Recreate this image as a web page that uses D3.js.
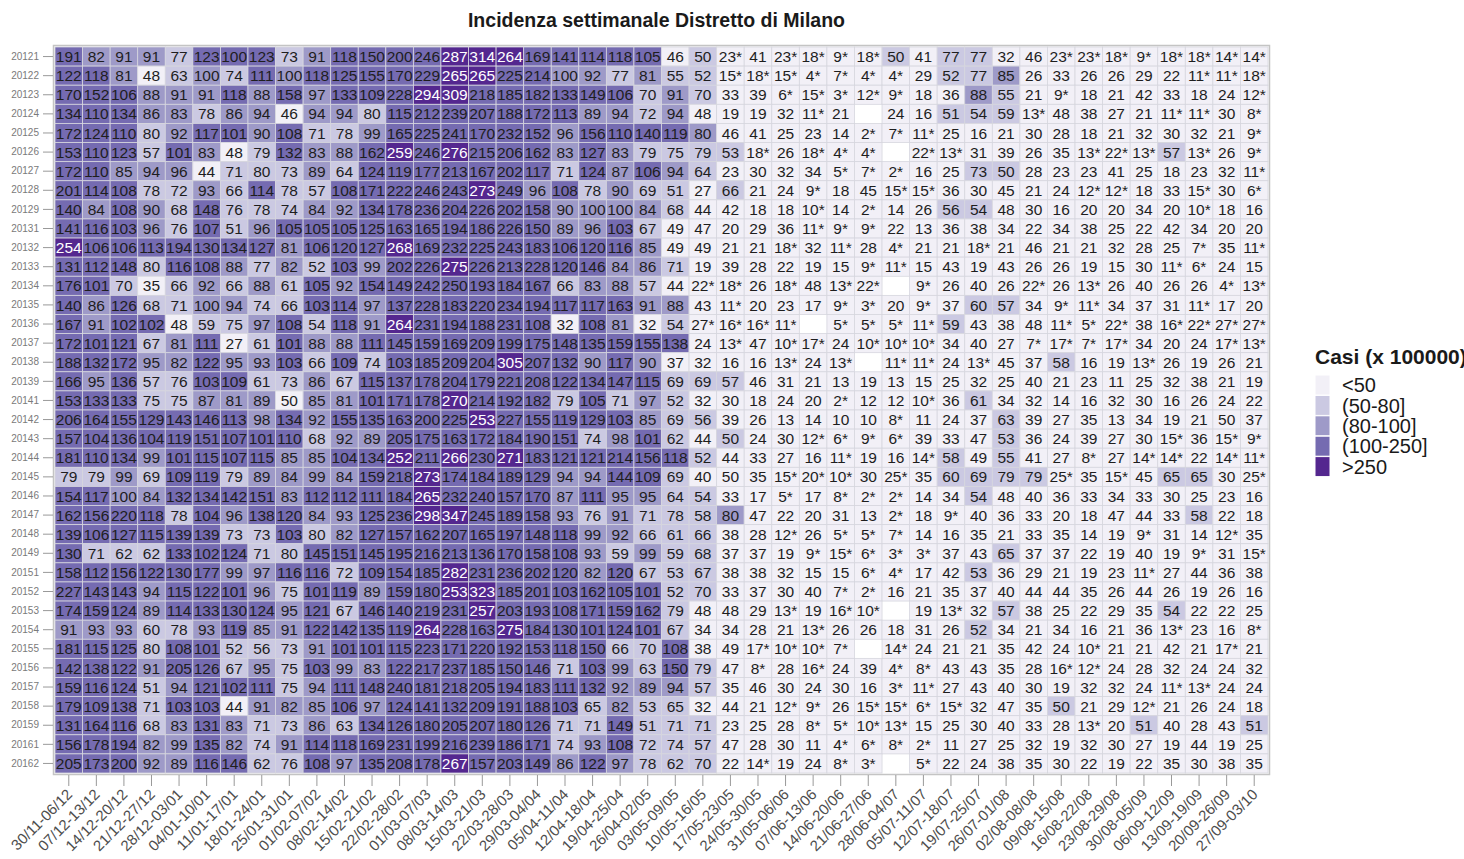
<!DOCTYPE html>
<html>
<head>
<meta charset="utf-8">
<script src="https://cdn.jsdelivr.net/npm/d3@7"></script>
<style>
  body { margin: 0; background: #fff; }
  svg { display: block; font-family: "Liberation Sans", Arial, sans-serif; }
</style>
</head>
<body>
<svg id="chart" width="1464" height="859"></svg>
<script>
// weeks on the x axis
const weeks = [
    '30/11-06/12', '07/12-13/12', '14/12-20/12', '21/12-27/12', '28/12-03/01',
    '04/01-10/01', '11/01-17/01', '18/01-24/01', '25/01-31/01', '01/02-07/02',
    '08/02-14/02', '15/02-21/02', '22/02-28/02', '01/03-07/03', '08/03-14/03',
    '15/03-21/03', '22/03-28/03', '29/03-04/04', '05/04-11/04', '12/04-18/04',
    '19/04-25/04', '26/04-02/05', '03/05-09/05', '10/05-16/05', '17/05-23/05',
    '24/05-30/05', '31/05-06/06', '07/06-13/06', '14/06-20/06', '21/06-27/06',
    '28/06-04/07', '05/07-11/07', '12/07-18/07', '19/07-25/07', '26/07-01/08',
    '02/08-08/08', '09/08-15/08', '16/08-22/08', '23/08-29/08', '30/08-05/09',
    '06/09-12/09', '13/09-19/09', '20/09-26/09', '27/09-03/10'
]

// areas on the y axis
const areas = [
    '20121', '20122', '20123', '20124', '20125', '20126', '20127', '20128', '20129',
    '20131', '20132', '20133', '20134', '20135', '20136', '20137', '20138', '20139',
    '20141', '20142', '20143', '20144', '20145', '20146', '20147', '20148', '20149',
    '20151', '20152', '20153', '20154', '20155', '20156', '20157', '20158', '20159',
    '20161', '20162'
]

// weekly cases x 100000, one string per area ('*' = flagged value, '-' = missing)
const incidence = [
    '191 82 91 91 77 123 100.4 123 73 91 118 150 200 246 287 314 264 169 141 114 118 105 46 50.4 23* 41 23* 18* 9* 18* 50.4 41 77 77 32 46 23* 23* 18* 9* 18* 18* 14* 14*',
    '122 118 81 48 63 100 74 111 100 118 125 155 170 229 265 265 225 214 100 92 77 81 55 52 15* 18* 15* 4* 7* 4* 4* 29 52 77 85 26 33 26 26 29 22 11* 11* 18*',
    '170 152 106 88 91 91 118 88 158 97 133 109 228 294 309 218 185 182 133 149 106 70 91 70 33 39 6* 15* 3* 12* 9* 18 36 88 55 21 9* 18 21 42 33 18 24 12*',
    '134 110 134 86 83 78 86 94 46 94 94 80 115 212 239 207 188 172 113 89 94 72 94 48 19 19 32 11* 21 - 24 16 51 54 59 13* 48 38 27 21 11* 11* 30 8*',
    '172 124 110 80 92 117 101 90 108 71 78 99 165 225 241 170 232 152 96 156 110 140 119 80.4 46 41 25 23 14 2* 7* 11* 25 16 21 30 28 18 21 32 30 32 21 9*',
    '153 110 123 57 101 83 48 79 132 83 88 162 259 246 276 215 206 162 83 127 83 79 75 79 53 18* 26 18* 4* 4* - 22* 13* 31 39 26 35 13* 22* 13* 57 13* 26 9*',
    '172 110 85 94 96 44 71 80 73 89 64 124 119 177 213 167 202 117 71 124 87 106 94 64 23 30 32 34 5* 7* 2* 16 25 73 50.4 28 23 23 41 25 18 23 32 11*',
    '201 114 108 78 72 93 66 114 78 57 108 171 222 246 243 273 249 96 108 78 90 69 51 27 66 21 24 9* 18 45 15* 15* 36 30 45 21 24 12* 12* 18 33 15* 30 6*',
    '140 84 108 90 68 148 76 78 74 84 92 134 178 236 204 226 202 158 90 100 100 84 68 44 42 18 18 10* 14 2* 14 26 56 54 48 30 16 20 20 34 20 10* 18 16',
    '141 116 103 96 76 107 51 96 105 105 105 125 163 165 194 186 226 150 89 96 103 67 49 47 20 29 36 11* 9* 9* 22 13 36 38 34 22 34 38 25 22 42 34 20 20',
    '254 106 106 113 194 130 134 127 81 106 120 127 268 169 232 225 243 183 106 120 116 85 49 49 21 21 18* 32 11* 28 4* 21 21 18* 21 46 21 21 32 28 25 7* 35 11*',
    '131 112 148 80 116 108 88 77 82 52 103 99 202 226 275 226 213 228 120 146 84 86 71 19 39 28 22 19 15 9* 11* 15 43 19 43 26 26 19 15 30 11* 6* 24 15',
    '176 101 70 35 66 92 66 88 61 105 92 154 149 242 250 193 184 167 66 83 88 57 44 22* 18* 26 18* 48 13* 22* - 9* 26 40 26 22* 26 13* 26 40 26 26 4* 13*',
    '140 86 126 68 71 100 94 74 66 103 114 97 137 228 183 220 234 194 117 117 163 91 88 43 11* 20 23 17 9* 3* 20 9* 37 60 57 34 9* 11* 34 37 31 11* 17 20',
    '167 91 102 102 48 59 75 97 108 54 118 91 264 231 194 188 231 108 32 108 81 32 54 27* 16* 16* 11* - 5* 5* 5* 11* 59 43 38 48 11* 5* 22* 38 16* 22* 27* 27*',
    '172 101 121 67 81 111 27 61 101 88 88 111 145 159 169 209 199 175 148 135 159 155 138 24 13* 47 10* 17* 24 10* 10* 10* 34 40 27 7* 17* 7* 17* 34 20 24 17* 13*',
    '188 132 172 95 82 122 95 93 103 66 109 74 103 185 209 204 305 207 132 90 117 90 37 32 16 16 13* 24 13* - 11* 11* 24 13* 45 37 58 16 19 13* 26 19 26 21',
    '166 95 136 57 76 103 109 61 73 86 67 115 137 178 204 179 221 208 122 134 147 115 69 69 57 46 31 21 13 19 13 15 25 32 25 40 21 23 11 25 32 38 21 19',
    '153 133 133 75 75 87 81 89 50 85 81 101 171 178 270 214 192 182 79 105 71 97 52 32 30 18 24 20 2* 12 12 10* 36 61 34 32 14 16 32 30 16 26 24 22',
    '206 164 155 129 143 146 113 98 134 92 155 135 163 200 225 253 227 155 119 129 103 85 69 56 39 26 13 14 10 10 8* 11 24 37 63 39 27 35 13 34 19 21 50 37',
    '157 104 136 104 119 151 107 101 110 68 92 89 205 175 163 172 184 190 151 74 98 101 62 44 50.4 24 30 12* 6* 9* 6* 39 33 47 53 36 24 39 27 30 15* 36 15* 9*',
    '181 110 134 99 101 115 107 115 85 85 104 134 252 211 266 230 271 183 121 121 214 156 118 52 44 33 27 16 11* 19 16 14* 58 49 55 41 27 8* 27 14* 14* 22 14* 11*',
    '79 79 99 69 109 119 79 89 84 99 84 159 218 273 174 184 189 129 94 94 144 109 69 40 50 35 15* 20* 10* 30 25* 35 60 69 79 79 25* 35 15* 45 65 65 30 25*',
    '154 117 100 84 132 134 142 151 83 112 112 111 184 265 232 240 157 170 87 111 95 95 64 54 33 17 5* 17 8* 2* 2* 14 34 54 48 40 36 33 34 33 30 25 23 16',
    '162 156 220 118 78 104 96 138 120 84 93 125 236 298 347 245 189 158 93 76 91 71 78 58 80.4 47 22 20 31 13 2* 18 9* 40 36 33 20 18 47 44 33 58 22 18',
    '139 106 127 115 139 139 73 73 103 80 82 127 157 162 207 165 197 148 118 99 92 66 61 66 38 28 12* 26 5* 5* 7* 14 16 35 21 33 35 14 19 9* 31 14 12* 35',
    '130 71 62 62 133 102 124 71 80 145 151 145 195 216 213 136 170 158 108 93 59 99 59 68 37 37 19 9* 15* 6* 3* 3* 37 43 65 37 37 22 19 40 19 9* 31 15*',
    '158 112 156 122 130 177 99 97 116 116 72 109 154 185 282 231 236 202 120 82 120 67 53 67 38 38 32 15 15 6* 4* 17 42 53 36 29 21 19 23 11* 27 44 36 38',
    '227 143 143 94 115 122 101 96 75 101 119 89 159 180 253 323 185 201 103 162 105 101 52 70 33 37 30 40 7* 2* 16 21 35 37 40 44 44 35 26 44 26 19 26 16',
    '174 159 124 89 114 133 130 124 95 121 67 146 140 219 231 257 203 193 108 171 159 162 79 48 48 29 13* 19 16* 10* - 19 13* 32 57 38 25 22 29 35 54 22 22 25',
    '91 93 93 60 78 93 119 85 91 122 142 135 119 264 228 163 275 184 130 101 124 101 67 34 34 28 21 13* 26 26 18 31 26 52 34 21 34 16 21 36 13* 23 16 8*',
    '181 115 125 80 108 101 52 56 73 91 101 101 115 223 171 220 192 153 118 150 66 70 108 38 49 17* 10* 10* 7* - 14* 24 21 21 35 42 24 10* 21 21 42 21 17* 21',
    '142 138 122 91 205 126 67 95 75 103 99 83 122 217 237 185 150 146 71 103 99 63 150 79 47 8* 28 16* 24 39 4* 8* 43 43 35 28 16* 12* 24 28 32 24 24 32',
    '159 116 124 51 94 121 102 111 75 94 111 148 240 181 218 205 194 183 111 132 92 89 94 57 35 46 30 24 30 16 3* 11* 27 43 40 30 19 32 32 24 11* 13* 24 24',
    '179 109 138 71 103 103 44 91 82 85 106 97 124 141 132 209 191 188 103 65 82 53 65 32 44 21 12* 9* 26 15* 15* 6* 15* 32 47 35 50.4 21 29 12* 21 26 24 18',
    '131 164 116 68 83 131 83 71 73 86 63 134 126 180 205 207 180 126 71 71 149 51 71 71 23 25 28 8* 5* 10* 13* 15 25 30 40 33 28 13* 20 51 40 28 43 51',
    '156 178 194 82 99 135 82 74 91 114 118 169 231 199 216 239 186 171 74 93 108 72 74 57 47 28 30 11 4* 6* 8* 2* 11 27 25 32 19 32 30 27 19 44 19 25',
    '205 173 200 92 89 116 146 62 76 108 97 135 208 178 267 157 203 149 86 122 97 78 62 70 22 14* 19 24 8* 3* - 5* 22 24 38 35 30 22 19 22 35 30 38 35'
]

// colour classes
const classBreaks = [50, 80, 100, 250]
const classLabels = ['<50', '(50-80]', '(80-100]', '(100-250]', '>250']
const classColors = ['#f2f0f7', '#cbc9e2', '#9e9ac8', '#756bb1', '#54278f']

const width = 1464
const height = 859
const margin = { top: 47, right: 196, bottom: 86, left: 55 }

const svg = d3.select('#chart')

// table of cells
const cells = []
incidence.forEach((row, i) => {
    row.split(' ').forEach((token, j) => {
        if (token === '-') return
        cells.push({
            area: areas[i],
            week: weeks[j],
            value: parseFloat(token),
            flag: token.endsWith('*')
        })
    })
})

const x = d3.scaleBand()
    .domain(weeks)
    .range([margin.left, width - margin.right])

const y = d3.scaleBand()
    .domain(areas)
    .range([margin.top, height - margin.bottom])

const classOf = (v) => d3.bisectLeft(classBreaks, v)
const color = d3.scaleOrdinal()
    .domain(d3.range(classLabels.length))
    .range(classColors)

// title
svg.append('text')
    .attr('x', (x.range()[0] + x.range()[1]) / 2 - 5)
    .attr('y', 27)
    .attr('text-anchor', 'middle')
    .style('font-size', '19.5px')
    .style('font-weight', 'bold')
    .style('fill', '#1a1a1a')
    .text('Incidenza settimanale Distretto di Milano')

// tiles
const grid = svg.append('g')

grid.selectAll('rect')
    .data(cells)
    .join('rect')
    .attr('x', (d) => x(d.week))
    .attr('y', (d) => y(d.area))
    .attr('width', x.bandwidth())
    .attr('height', y.bandwidth())
    .style('fill', (d) => color(classOf(d.value)))
    .style('stroke', '#d6d6de')
    .style('stroke-width', 0.8)

grid.selectAll('text')
    .data(cells)
    .join('text')
    .attr('x', (d) => x(d.week) + x.bandwidth() / 2)
    .attr('y', (d) => y(d.area) + y.bandwidth() / 2)
    .attr('dy', '0.36em')
    .attr('text-anchor', 'middle')
    .style('font-size', '15.5px')
    .style('fill', (d) => classOf(d.value) === 4 ? '#ffffff' : '#1e1e1e')
    .text((d) => Math.round(d.value) + (d.flag ? '*' : ''))

// panel border
svg.append('rect')
    .attr('x', x.range()[0] - 1.5)
    .attr('y', y.range()[0] - 1.5)
    .attr('width', x.range()[1] - x.range()[0] + 3)
    .attr('height', y.range()[1] - y.range()[0] + 3)
    .style('fill', 'none')
    .style('stroke', '#c4c4c4')
    .style('stroke-width', 1.5)

// y axis
const yAxis = svg.append('g')
    .attr('transform', `translate(${x.range()[0] - 2}, 0)`)
    .call(d3.axisLeft(y).tickSize(10).tickPadding(4))
yAxis.select('.domain').remove()
yAxis.selectAll('line').style('stroke', '#999')
yAxis.selectAll('text')
    .style('font-size', '10px')
    .style('font-family', '"Liberation Sans", Arial, sans-serif')
    .style('fill', '#7a7a7a')

// x axis
const xAxis = svg.append('g')
    .attr('transform', `translate(0, ${y.range()[1] + 2})`)
    .call(d3.axisBottom(x).tickSize(11).tickPadding(4))
xAxis.select('.domain').remove()
xAxis.selectAll('line').style('stroke', '#999')
xAxis.selectAll('text')
    .style('font-size', '15px')
    .style('font-family', '"Liberation Sans", Arial, sans-serif')
    .style('fill', '#4d4d4d')
    .attr('text-anchor', 'end')
    .attr('dy', '0.7em')
    .attr('transform', 'translate(-3, 13) rotate(-45)')
    .attr('y', 0)
    .attr('x', 0)

// legend
const legend = svg.append('g')
    .attr('transform', 'translate(1315, 0)')

legend.append('text')
    .attr('x', 0)
    .attr('y', 364)
    .style('font-size', '21px')
    .style('font-weight', 'bold')
    .style('fill', '#1a1a1a')
    .text('Casi (x 100000)')

const keys = legend.selectAll('g.key')
    .data(classLabels)
    .join('g')
    .attr('class', 'key')
    .attr('transform', (d, i) => `translate(0, ${375 + i * 20.4})`)

keys.append('rect')
    .attr('width', 15)
    .attr('height', 20)
    .style('fill', (d, i) => classColors[i])
    .style('stroke', '#ffffff')
    .style('stroke-width', 1)

keys.append('text')
    .attr('x', 27)
    .attr('y', 10)
    .attr('dy', '0.36em')
    .style('font-size', '20px')
    .style('fill', '#1a1a1a')
    .text((d) => d)
</script>
</body>
</html>
